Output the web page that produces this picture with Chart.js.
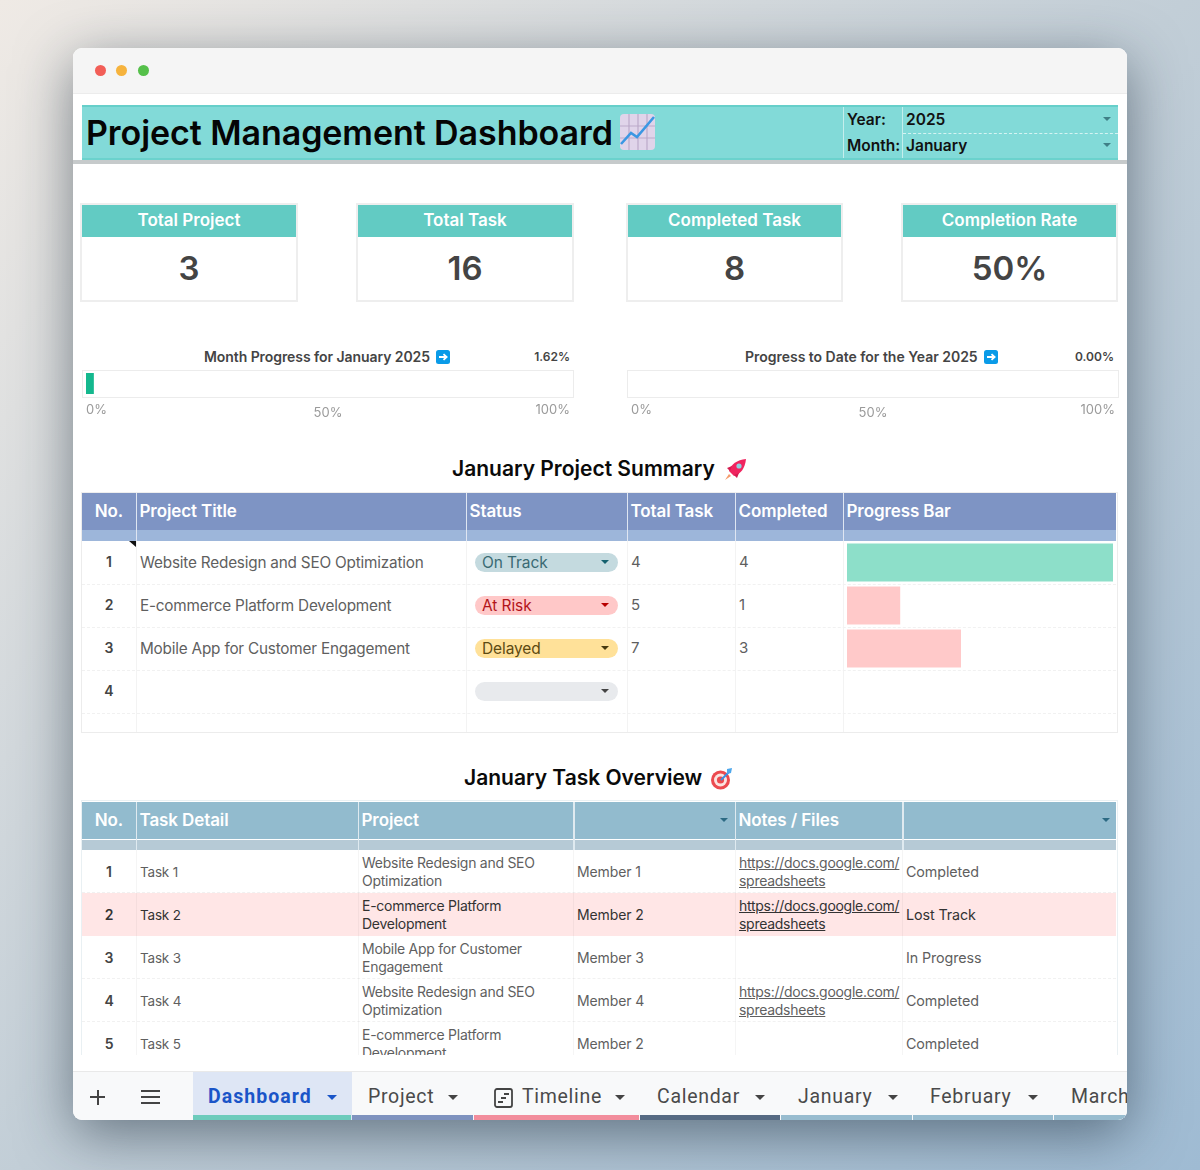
<!DOCTYPE html>
<html>
<head>
<meta charset="utf-8">
<title>Project Management Dashboard</title>
<script src="https://cdn.jsdelivr.net/npm/chart.js@4"></script>
<style>
  * { box-sizing: border-box; }
  html, body { margin: 0; width: 1200px; height: 1170px; overflow: hidden; }
  body {
    position: relative;
    font-family: Inter, Roboto, sans-serif;
    background: linear-gradient(135deg, #efeae5 0%, #c2ced7 50%, #9fbbd3 100%);
  }
  #win {
    position: absolute; left: 73px; top: 48px; width: 1054px; height: 1072px;
    background: #fff; border-radius: 9px; overflow: hidden;
    box-shadow: 0 14px 55px rgba(30, 45, 60, .55);
  }
  /* everything inside is placed in page coordinates */
  #page { position: absolute; left: -73px; top: -48px; width: 1200px; height: 1170px; }
  #page > div, #page > canvas, #page > svg { position: absolute; }
  .t { white-space: nowrap; }
  .box { position: absolute; }
  canvas { display: block; }

  .kpi-frame { border: 2px solid #eeeeee; background: #fff; }
  .kpi-head { color: #fff; background: #62cbc3; font-weight: 600; font-size: 17px; text-align: center; height: 32px; line-height: 31px; }
  .kpi-num { color: #444; font-weight: 600; font-size: 33px; text-align: center; height: 62px; line-height: 63px; }

  .head-t { color: #fff; font-weight: 600; font-size: 17px; letter-spacing: -.1px; }
  .cell { color: #5f5f5f; font-size: 15px; letter-spacing: -.1px; white-space: nowrap; }
  .num { color: #444; font-weight: 600; font-size: 14px; text-align: center; }
  .two { line-height: 18px; font-size: 14px; letter-spacing: -.27px; }
  .link { text-decoration: underline; }
  .pill { border-radius: 10px; font-size: 15.5px; line-height: 19px; padding-left: 7px; letter-spacing: -.1px; }
  .arrow { width: 0; height: 0; border-left: 5px solid transparent; border-right: 5px solid transparent; border-top: 5px solid #444; }
  .tab { font-size: 19.5px; letter-spacing: .7px; color: #4a4a4a; font-family: Roboto, sans-serif; }
</style>
</head>
<body>
<div id="win"><div id="page"></div></div>

<script>
// ================= DATA =================
const dashboardTitle = "Project Management Dashboard";
const selectedYear = "2025";
const selectedMonth = "January";

const kpiTitles = ["Total Project", "Total Task", "Completed Task", "Completion Rate"];
const kpiValues = ["3", "16", "8", "50%"];

const progressTicks = [0, 50, 100];
const progressTickLabels = ["0%", "50%", "100%"];
const monthProgress = [1.62];
const yearProgress = [0.00];

const projectNumbers = ["1", "2", "3", "4"];
const projectTitles = ["Website Redesign and SEO Optimization", "E-commerce Platform Development", "Mobile App for Customer Engagement", ""];
const projectStatuses = ["On Track", "At Risk", "Delayed", ""];
const projectTotals = ["4", "5", "7", ""];
const projectCompleted = ["4", "1", "3", ""];
const projectProgress = [100, 20, 42.86, 0];

const taskNumbers = ["1", "2", "3", "4", "5"];
const taskNames = ["Task 1", "Task 2", "Task 3", "Task 4", "Task 5"];
const taskProjects = [
  ["Website Redesign and SEO", "Optimization"],
  ["E-commerce Platform", "Development"],
  ["Mobile App for Customer", "Engagement"],
  ["Website Redesign and SEO", "Optimization"],
  ["E-commerce Platform", "Development"]
];
const taskMembers = ["Member 1", "Member 2", "Member 3", "Member 4", "Member 2"];
const taskHasFile = [true, true, false, true, false];
const taskStatuses = ["Completed", "Lost Track", "In Progress", "Completed", "Completed"];

const tabNames = ["Dashboard", "Project", "Timeline", "Calendar", "January", "February", "March"];

// ================= COLOURS =================
const BAR_DONE = "#8ddfc9";
const BAR_TODO = "#ffc9c9";
const BAR_MONTH = "#14b88e";
const TICK_GREY = "#9a9a9a";
const PILL_STYLES = {
  "On Track": { bg: "#c4dadf", fg: "#3a6a73", arrow: "#15616e" },
  "At Risk": { bg: "#ffc8c8", fg: "#b3141a", arrow: "#b80000" },
  "Delayed": { bg: "#ffe199", fg: "#5d4a12", arrow: "#473a10" },
  "": { bg: "#e8eaed", fg: "#444", arrow: "#444" }
};

// ================= DOM HELPERS =================
const page = document.getElementById("page");

function box(x, y, w, h, css) {
  const el = document.createElement("div");
  el.style.cssText = `left:${x}px;top:${y}px;width:${w}px;height:${h}px;${css || ""}`;
  page.appendChild(el);
  return el;
}

// text vertically centred on cy
function text(str, x, cy, cls, css) {
  const el = document.createElement("div");
  el.className = "t " + (cls || "");
  el.textContent = str;
  el.style.cssText = `left:${x}px;top:${cy - 15}px;height:30px;line-height:30px;${css || ""}`;
  page.appendChild(el);
  return el;
}

function arrow(cx, cy, color, size) {
  const s = size || 5;
  const el = document.createElement("div");
  el.className = "arrow";
  el.style.cssText = `left:${cx - s}px;top:${cy - s / 2}px;border-left-width:${s}px;border-right-width:${s}px;border-top:${s}px solid ${color};`;
  page.appendChild(el);
}

function icon(x, y, w, h, vb, inner) {
  const wrap = document.createElement("div");
  wrap.style.cssText = `left:${x}px;top:${y}px;width:${w}px;height:${h}px;`;
  wrap.innerHTML = `<svg width="${w}" height="${h}" viewBox="${vb}" style="display:block">${inner}</svg>`;
  page.appendChild(wrap);
}

// ================= WINDOW CHROME =================
box(73, 48, 1054, 45, "background:#f5f5f5;");
box(73, 93, 1054, 1, "background:#ececec;");
[[95, "#f25e57"], [116, "#f6b33d"], [138, "#55c04a"]].forEach(d => {
  box(d[0], 65, 11, 11, `background:${d[1]};border-radius:50%;`);
});

// ================= HEADER BAND =================
box(82, 105, 1036, 55, "background:#82dad8;border-top:2px solid #66cfca;border-bottom:2px solid #6bd2cd;");
box(73, 160, 1054, 4, "background:#c6cacb;");
text(dashboardTitle, 86, 132.5, "", "font-size:34px;font-weight:600;color:#050505;letter-spacing:-.07px;");
icon(620, 114, 35, 36, "0 0 35 36",
  `<rect x="0" y="0" width="35" height="36" rx="4" fill="#e0d4ea"/>
   <path d="M0 12H35M0 24H35M9 0V36M18 0V36M27 0V36" stroke="#bba9c9" stroke-width="1.2"/>
   <path d="M1 30L11 19L17 23L34 3" fill="none" stroke="#3b97e3" stroke-width="2.6"/>`);
box(843, 107, 1, 51, "background:#c4eeec;");
box(902, 107, 1, 51, "background:#c4eeec;");
box(903, 133, 215, 1, "border-top:1px dashed #d5f3f2;");
text("Year:", 847, 120, "", "font-size:15.5px;font-weight:600;color:#111;");
text("Month:", 847, 146, "", "font-size:15.5px;font-weight:600;color:#111;");
text(selectedYear, 906, 120, "", "font-size:15.5px;font-weight:600;color:#111;");
text(selectedMonth, 906, 146, "", "font-size:15.5px;font-weight:600;color:#111;");
arrow(1107, 119, "#3f7f86", 4);
arrow(1107, 145, "#3f7f86", 4);

// ================= KPI CARDS =================
const kpiLefts = [80, 356, 626, 901];
const kpiWidths = [218, 218, 217, 217];
kpiTitles.forEach((title, i) => {
  const card = box(kpiLefts[i], 203, kpiWidths[i], 99, "");
  card.className = "kpi-frame";
  card.innerHTML = `<div class="kpi-head">${title}</div><div class="kpi-num">${kpiValues[i]}</div>`;
});

// ================= PROGRESS STRIPS =================
const arrowBox = `<rect width="14" height="14" rx="2.5" fill="#0a9be8"/>
  <path d="M3 7H10M7.5 4.2L10.6 7L7.5 9.8" fill="none" stroke="#fff" stroke-width="1.8"/>`;

text("Month Progress for January 2025", 204, 357, "", "font-size:14px;font-weight:600;color:#444;letter-spacing:-.07px;");
icon(436, 350, 14, 14, "0 0 14 14", arrowBox);
text("1.62%", 470, 357, "", "width:100px;text-align:right;font-size:12px;font-weight:600;color:#444;");
box(82, 370, 492, 28, "border:1.5px solid #ececec;");

text("Progress to Date for the Year 2025", 745, 357, "", "font-size:14px;font-weight:600;color:#444;letter-spacing:-.02px;");
icon(984, 350, 14, 14, "0 0 14 14", arrowBox);
text("0.00%", 1014, 357, "", "width:100px;text-align:right;font-size:12px;font-weight:600;color:#444;");
box(627, 370, 492, 28, "border:1.5px solid #ececec;");

// ================= PROJECT SUMMARY =================
text("January Project Summary", 452, 469, "", "font-size:21px;font-weight:600;color:#0a0a0a;letter-spacing:0;");
icon(724, 458, 23, 23, "0 0 23 23",
  `<path d="M5 13C7 6 13 2 22 1C21 10 17 16 10 18Z" fill="#f0245f"/>
   <path d="M8 8L3 10L6 13ZM15 15L13 20L10 17Z" fill="#d41c50"/>
   <circle cx="15" cy="8" r="2.6" fill="#8fd0e0"/>
   <path d="M5 16L1 22L7 18Z" fill="#f59a6a"/>`);

const projCols = [82, 135.5, 465.5, 626.5, 734.5, 842.5, 1116];
const projHeads = ["No.", "Project Title", "Status", "Total Task", "Completed", "Progress Bar"];
box(81, 492, 1037, 241, "border:1.5px solid #ececec;border-top:1px solid #eee;");
box(82, 493, 1034, 37, "background:#7e94c4;");
box(82, 530, 1034, 11, "background:#9db6da;");
projHeads.forEach((h, i) => {
  if (i === 0) text(h, 82, 511, "head-t", "width:54px;text-align:center;");
  else text(h, projCols[i] + 4, 511, "head-t");
});
projCols.slice(1, -1).forEach(x => {
  box(x, 493, 1.5, 48, "background:#dfe6f2;");
  box(x, 541, 1, 191, "background:#f3f3f3;");
});
box(129, 541, 7, 6, "background:#111;clip-path:polygon(0 0,100% 0,100% 100%);");

const projRowH = 43;
projectNumbers.forEach((n, i) => {
  const cy = 562 + i * projRowH;
  box(82, 541 + (i + 1) * projRowH, 1034, 1, "border-top:1px dashed #f1f1f1;");
  text(n, 82, cy, "num", "width:54px;");
  text(projectTitles[i], 140, cy + 0.5, "cell", "font-size:15.3px;letter-spacing:-.2px;");
  const st = PILL_STYLES[projectStatuses[i]];
  const pill = box(475, cy - 9.5, 143, 19, `background:${st.bg};color:${st.fg};`);
  pill.className = "pill";
  pill.textContent = projectStatuses[i];
  arrow(605.5, cy, st.arrow, 4.5);
  text(projectTotals[i], 631, cy, "cell");
  text(projectCompleted[i], 739, cy, "cell");
});

// ================= TASK OVERVIEW =================
text("January Task Overview", 464, 778, "", "font-size:21px;font-weight:600;color:#0a0a0a;letter-spacing:0;");
icon(710, 768, 23, 22, "0 0 23 22",
  `<circle cx="10.5" cy="12" r="9.5" fill="#ec4a4f"/>
   <circle cx="10.5" cy="12" r="6.5" fill="#fbe3e0"/>
   <circle cx="10.5" cy="12" r="3.6" fill="#ec4a4f"/>
   <path d="M11 12L20 3" stroke="#3b8fe3" stroke-width="2"/>
   <path d="M17 1L22 0L21 5L17 6Z" fill="#4fa8ec"/>`);

const taskCols = [82, 135.5, 357.5, 573, 734.5, 902, 1116];
const taskHeads = ["No.", "Task Detail", "Project", "", "Notes / Files", ""];
box(81, 800, 1037, 255, "border:1.5px solid #e9f0f3;border-bottom:none;");
box(82, 802, 1034, 37, "background:#92bbce;");
box(82, 840, 1034, 10, "background:#b6cad6;");
taskHeads.forEach((h, i) => {
  if (i === 0) text(h, 82, 820, "head-t", "width:54px;text-align:center;");
  else if (h) text(h, taskCols[i] + 4, 820, "head-t");
});
arrow(724, 820, "#2d6a83", 4.5);
arrow(1106, 820, "#2d6a83", 4.5);

const taskRowH = 43;
const clip = box(82, 850, 1034, 205, "overflow:hidden;");
taskNumbers.forEach((n, i) => {
  const top = i * taskRowH;
  const row = document.createElement("div");
  const lost = taskStatuses[i] === "Lost Track";
  row.className = "box";
  row.style.cssText = `left:0;top:${top}px;width:1034px;height:${taskRowH}px;` +
    (lost ? "background:#ffe6e6;" : "border-bottom:1px dashed #f1f1f1;");
  const color = lost ? "color:#333;" : "";
  const cell = (str, x, cls, extra) =>
    `<div class="box cell ${cls}" style="left:${x - 82}px;top:0;height:${taskRowH}px;line-height:${taskRowH}px;${color}${extra || ""}">${str}</div>`;
  const lines = (arr, x, cls) => arr.map((s, k) =>
    `<div class="box cell two ${cls}" style="left:${x - 82}px;top:${4 + k * 18}px;${color}">${s}</div>`).join("");
  row.innerHTML =
    cell(n, 82, "num", "width:54px;") +
    cell(taskNames[i], 140, "", "font-size:13.5px;letter-spacing:-.2px;top:1px;") +
    lines(taskProjects[i], 362, "") +
    cell(taskMembers[i], 577, "", "font-size:14px;letter-spacing:-.1px;") +
    (taskHasFile[i] ? lines(["https://docs.google.com/", "spreadsheets"], 739, "link") : "") +
    cell(taskStatuses[i], 906, "", "font-size:14.3px;letter-spacing:-.1px;");
  clip.appendChild(row);
});
taskCols.slice(1, -1).forEach(x => {
  box(x, 802, 1.5, 48, "background:#dfeaf0;");
  box(x, 850, 1, 205, "background:rgba(0,0,0,.04);");
});

// ================= SHEET TABS =================
box(73, 1071, 1054, 49, "background:#f8f9fa;border-top:1px solid #e9e9e9;");
box(90, 1096, 15, 2, "background:#444;");
box(96.5, 1089.5, 2, 15, "background:#444;");
box(141, 1090, 19, 2, "background:#444;");
box(141, 1096, 19, 2, "background:#444;");
box(141, 1102, 19, 2, "background:#444;");
box(193, 1072, 159, 48, "background:#dee6f5;");

const tabLefts = [193, 352, 474, 640, 781, 913, 1054];
const tabWidths = [158, 121, 165, 140, 131, 140, 73];
const tabTextX = [208, 368, 522, 657, 798, 930, 1071];
const tabArrowX = [332, 453, 620, 760, 893, 1033, null];
const tabLines = ["#6ccbbc", "#7f93bf", "#f28d9c", "#566a83", "#98bccf", "#98bccf", "#98bccf"];
tabNames.forEach((name, i) => {
  box(tabLefts[i], 1115, tabWidths[i], 4.5, `background:${tabLines[i]};`);
  const active = i === 0;
  text(name, tabTextX[i], 1097, "tab", active ? "color:#1a55c8;font-weight:700;letter-spacing:1.05px;" : "");
  if (tabArrowX[i]) arrow(tabArrowX[i], 1097, active ? "#1a55c8" : "#444", 5);
});
icon(494, 1088, 19, 20, "0 0 19 20",
  `<rect x="1" y="1" width="17" height="18" rx="2" fill="none" stroke="#444" stroke-width="1.8"/>
   <path d="M10 6H15M7 10H12M4 14H9" stroke="#444" stroke-width="1.8"/>`);

// ================= CHARTS =================
function addCanvas(x, y, w, h) {
  const c = document.createElement("canvas");
  c.width = w;
  c.height = h;
  c.style.cssText = `left:${x}px;top:${y}px;width:${w}px;height:${h}px;`;
  page.appendChild(c);
  return c;
}

function progressStrip(x, y, values) {
  return new Chart(addCanvas(x, y, 492, 52), {
    type: "bar",
    data: {
      labels: [""],
      datasets: [{ data: values, backgroundColor: BAR_MONTH, barPercentage: 1, categoryPercentage: 1, inflateAmount: 0 }]
    },
    options: {
      indexAxis: "y",
      responsive: false,
      animation: false,
      layout: { padding: { left: 0, right: 0, top: 3, bottom: 0 } },
      plugins: { legend: { display: false }, tooltip: { enabled: false } },
      scales: {
        y: { display: false },
        x: {
          min: 0,
          max: 100,
          afterFit: s => { s.height = 28; },
          afterBuildTicks: s => { s.ticks = progressTicks.map(v => ({ value: v })); },
          grid: { display: false, drawTicks: false },
          border: { display: false },
          ticks: {
            padding: 4, // also insets the plot from the canvas sides
            align: "inner",
            maxRotation: 0,
            autoSkip: false,
            color: TICK_GREY,
            // the middle label sits a little lower in the original
            font: c => ({ family: "Inter", size: 13, lineHeight: c.index === 1 ? "31px" : "24px" }),
            callback: (v, i) => progressTickLabels[i]
          }
        }
      }
    }
  });
}

progressStrip(82, 370, monthProgress);
progressStrip(627, 370, yearProgress);

new Chart(addCanvas(847, 541, 266, 172), {
  type: "bar",
  data: {
    labels: projectNumbers,
    datasets: [{
      data: projectProgress,
      backgroundColor: projectProgress.map(v => (v >= 100 ? BAR_DONE : BAR_TODO)),
      barPercentage: 0.88,
      categoryPercentage: 1,
      inflateAmount: 0
    }]
  },
  options: {
    indexAxis: "y",
    responsive: false,
    animation: false,
    layout: { padding: 0 },
    plugins: { legend: { display: false }, tooltip: { enabled: false } },
    scales: {
      x: { display: false, min: 0, max: 100 },
      y: { display: false }
    }
  }
});
</script>
</body>
</html>
